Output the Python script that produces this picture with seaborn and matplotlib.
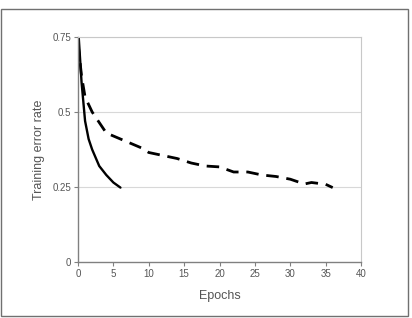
import matplotlib
matplotlib.use("Agg")
import matplotlib.pyplot as plt
import seaborn as sns
import pandas as pd
from matplotlib.patches import Rectangle

sns.set_style("white")
plt.rcParams['font.family'] = ['Liberation Sans', 'DejaVu Sans']

fast_epochs = [0.1, 0.5, 1, 1.5, 2, 3, 4, 5, 6]
fast_error = [0.75, 0.60, 0.47, 0.41, 0.375, 0.32, 0.29, 0.265, 0.248]

slow_epochs = [0, 0.5, 1, 2, 3, 4, 5, 6, 7, 8, 9, 10, 12, 14, 16, 18, 20, 22, 24, 26, 28, 30, 32, 33, 35, 36]
slow_error = [0.73, 0.62, 0.55, 0.50, 0.465, 0.43, 0.42, 0.41, 0.40, 0.39, 0.38, 0.365, 0.355, 0.345, 0.33, 0.32, 0.317, 0.30, 0.30, 0.29, 0.285, 0.276, 0.26, 0.265, 0.259, 0.248]

x_ticks = [0, 5, 10, 15, 20, 25, 30, 35, 40]
y_ticks = [0, 0.25, 0.5, 0.75]
y_tick_labels = ["0", "0.25", "0.5", "0.75"]

fig = plt.figure(figsize=(4.12, 3.18), dpi=100)
ax = fig.add_axes([78/412, 1-262/318, (361-78)/412, (262-37)/318])

df_fast = pd.DataFrame({"Epochs": fast_epochs, "err": fast_error})
df_slow = pd.DataFrame({"Epochs": slow_epochs, "err": slow_error})

for y in [0.25, 0.5, 0.75]:
    ax.axhline(y, color="#d8d8d8", lw=0.8, zorder=0)

sns.lineplot(data=df_fast, x="Epochs", y="err", ax=ax, color="black", lw=1.7, estimator=None, sort=False)
sns.lineplot(data=df_slow, x="Epochs", y="err", ax=ax, color="black", lw=2.0, estimator=None, sort=False)
ax.lines[-1].set_dashes([4.5, 2.8])

ax.set_xlim(0, 40)
ax.set_ylim(0, 0.75)
ax.set_xticks(x_ticks)
ax.set_yticks(y_ticks)
ax.set_yticklabels(y_tick_labels)
ax.tick_params(axis="both", which="both", direction="out", length=3, width=0.8,
               colors="#808080", labelcolor="#555555", labelsize=7, pad=2, bottom=True, left=True)
for s in ["left", "bottom"]:
    ax.spines[s].set_color("#808080")
    ax.spines[s].set_linewidth(1.0)
for s in ["top", "right"]:
    ax.spines[s].set_color("#c8c8c8")
    ax.spines[s].set_linewidth(0.8)

ax.set_xlabel("Epochs", fontsize=9, color="#555555", labelpad=8)
ax.set_ylabel("Training error rate", fontsize=9, color="#555555", labelpad=5)

fig.patches.append(Rectangle((1/412, 1-316/318), 407/412, 307/318, transform=fig.transFigure,
                             fill=False, edgecolor="#707070", lw=1.0))

fig.savefig("out.png", dpi=100)
